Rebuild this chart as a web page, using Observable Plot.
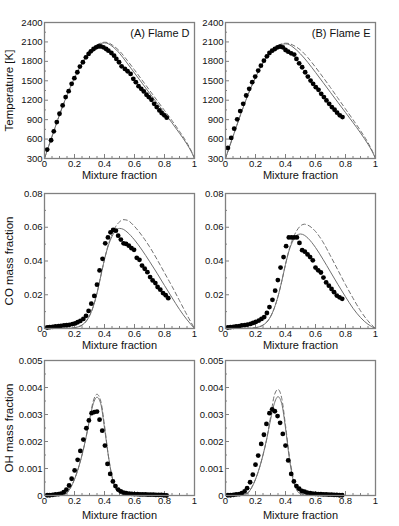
<!DOCTYPE html>
<html><head><meta charset="utf-8">
<script src="https://cdn.jsdelivr.net/npm/d3@7"></script>
<script src="https://cdn.jsdelivr.net/npm/@observablehq/plot@0.6"></script>
<style>
body{margin:0;background:#fff;}
#chart{position:relative;width:399px;height:526px;font-family:"Liberation Sans",Arial,sans-serif;}
#chart > div{position:absolute;}
</style></head><body><div id="chart"></div>
<script>
// ---------- tick labels / positions ----------
const xMajor = [0, 0.2, 0.4, 0.6, 0.8, 1];
const xMinor = [0.05,0.1,0.15,0.25,0.3,0.35,0.45,0.5,0.55,0.65,0.7,0.75,0.85,0.9,0.95];
const tMajor = [300,600,900,1200,1500,1800,2100,2400];
const tMinor = [450,750,1050,1350,1650,1950,2250];
const cMajor = [0,0.02,0.04,0.06,0.08];
const cMinor = [0.01,0.03,0.05,0.07];
const oMajor = [0,0.001,0.002,0.003,0.004,0.005];
const oMinor = [0.0005,0.0015,0.0025,0.0035,0.0045];

// ---------- measured points (symbols) ----------
const tdZ = [0.018,0.044,0.062,0.082,0.100,0.121,0.141,0.161,0.181,0.199,0.219,0.236,0.256,0.276,0.294,0.309,0.327,0.344,0.360,0.375,0.393,0.411,0.426,0.446,0.464,0.479,0.497,0.514,0.536,0.554,0.574,0.592,0.609,0.627,0.645,0.662,0.680,0.695,0.713,0.731,0.748,0.766,0.781,0.799,0.815];
const tdT = [438,582,720,863,991,1120,1248,1340,1453,1540,1632,1719,1786,1862,1914,1955,1991,2016,2031,2031,2016,1991,1965,1929,1888,1837,1786,1724,1683,1647,1606,1530,1478,1417,1376,1335,1284,1248,1207,1145,1094,1043,1002,966,930];
const teZ = [0.016,0.038,0.058,0.078,0.098,0.118,0.138,0.158,0.178,0.198,0.218,0.236,0.256,0.276,0.293,0.311,0.329,0.347,0.364,0.382,0.400,0.418,0.438,0.458,0.473,0.491,0.511,0.531,0.549,0.567,0.584,0.602,0.620,0.638,0.656,0.673,0.691,0.709,0.727,0.744,0.762,0.780];
const teT = [464,618,761,905,1033,1145,1273,1376,1478,1565,1657,1734,1811,1878,1929,1965,1991,2016,2026,2016,1975,1950,1924,1904,1837,1770,1709,1632,1565,1504,1453,1401,1360,1299,1248,1196,1145,1094,1053,1007,966,940];

const cdZ = [0.018,0.035,0.055,0.073,0.093,0.110,0.130,0.148,0.166,0.186,0.204,0.221,0.239,0.259,0.277,0.294,0.312,0.332,0.350,0.367,0.387,0.405,0.423,0.440,0.458,0.476,0.491,0.509,0.527,0.544,0.562,0.580,0.597,0.615,0.633,0.650,0.668,0.686,0.704,0.721,0.739,0.754,0.772,0.790,0.808,0.825];
const cdY = [0.0006,0.0008,0.0010,0.0012,0.0014,0.0016,0.0018,0.0020,0.0022,0.0026,0.0030,0.0037,0.0045,0.0057,0.0075,0.0104,0.0147,0.0193,0.0260,0.0344,0.0413,0.0505,0.0540,0.0570,0.0584,0.0580,0.0550,0.0527,0.0505,0.0501,0.0491,0.0476,0.0466,0.0419,0.0407,0.0373,0.0354,0.0334,0.0305,0.0285,0.0269,0.0246,0.0230,0.0210,0.0197,0.0180];
const ceZ = [0.016,0.033,0.053,0.071,0.091,0.109,0.129,0.147,0.167,0.184,0.202,0.222,0.240,0.258,0.276,0.293,0.313,0.331,0.349,0.367,0.387,0.404,0.422,0.440,0.458,0.476,0.493,0.511,0.529,0.547,0.564,0.582,0.600,0.618,0.636,0.653,0.671,0.689,0.707,0.724,0.742,0.760,0.778];
const ceY = [0.0006,0.0008,0.0010,0.0012,0.0014,0.0018,0.0020,0.0023,0.0027,0.0033,0.0039,0.0047,0.0057,0.0068,0.0092,0.0127,0.0170,0.0224,0.0287,0.0361,0.0423,0.0488,0.0540,0.0540,0.0540,0.0540,0.0507,0.0464,0.0455,0.0439,0.0423,0.0404,0.0361,0.0345,0.0332,0.0302,0.0273,0.0254,0.0234,0.0215,0.0195,0.0185,0.0176];

const odZ = [0.018,0.035,0.055,0.073,0.093,0.110,0.128,0.146,0.164,0.181,0.201,0.221,0.239,0.259,0.279,0.296,0.314,0.332,0.350,0.367,0.385,0.403,0.420,0.438,0.456,0.473,0.491,0.509,0.527,0.544,0.564,0.582,0.600,0.620,0.637,0.655,0.673,0.690,0.708,0.726,0.743,0.761,0.779,0.796,0.814];
const odY = [0.00001,0.00001,0.00002,0.00004,0.00005,0.00007,0.00012,0.00022,0.00037,0.00062,0.00093,0.00132,0.00165,0.00207,0.00249,0.00278,0.00305,0.00309,0.00311,0.00281,0.00240,0.00185,0.00117,0.00080,0.00052,0.00035,0.00022,0.00015,0.00011,0.00009,0.00007,0.00006,0.00005,0.00005,0.00004,0.00004,0.00004,0.00003,0.00003,0.00003,0.00002,0.00002,0.00002,0.00001,0.00000];
const oeZ = [0.016,0.033,0.053,0.071,0.091,0.109,0.127,0.144,0.164,0.182,0.200,0.218,0.238,0.256,0.273,0.293,0.311,0.329,0.347,0.364,0.382,0.400,0.418,0.438,0.456,0.473,0.491,0.509,0.527,0.544,0.564,0.582,0.600,0.618,0.636,0.653,0.671,0.689,0.707,0.724,0.742,0.760,0.778];
const oeY = [0.00001,0.00001,0.00002,0.00004,0.00005,0.00009,0.00015,0.00027,0.00049,0.00077,0.00114,0.00148,0.00191,0.00225,0.00265,0.00305,0.00319,0.00312,0.00294,0.00269,0.00228,0.00185,0.00130,0.00080,0.00052,0.00035,0.00025,0.00017,0.00014,0.00011,0.00009,0.00007,0.00006,0.00005,0.00005,0.00004,0.00004,0.00003,0.00003,0.00002,0.00002,0.00001,0.00001];

// ---------- model curves (solid / dashed) ----------
const lineTZ = [0,0.05,0.1,0.15,0.2,0.25,0.3,0.35,0.375,0.4,0.425,0.45,0.5,0.55,0.6,0.65,0.7,0.75,0.8,0.85,0.9,0.95,0.98,1];
const tSolidD = [300,640,975,1280,1545,1770,1945,2050,2075,2085,2072,2035,1925,1775,1620,1465,1310,1155,1005,850,690,520,400,300];
const tDashD  = [300,640,975,1280,1545,1770,1945,2055,2083,2095,2088,2055,1960,1820,1668,1512,1355,1198,1042,885,720,540,410,300];
const tSolidE = [300,640,975,1285,1550,1775,1945,2040,2062,2070,2058,2020,1915,1780,1630,1475,1320,1165,1010,855,695,520,400,300];
const tDashE  = [300,640,975,1285,1550,1775,1948,2045,2070,2080,2075,2050,1975,1855,1710,1555,1395,1230,1065,900,730,545,410,300];

const lineCZ = [0,0.1,0.15,0.2,0.225,0.25,0.275,0.3,0.325,0.35,0.375,0.4,0.425,0.45,0.475,0.5,0.525,0.55,0.6,0.65,0.7,0.75,0.8,0.85,0.9,0.95,1];
const cSolidD = [0,0,0.0001,0.0005,0.001,0.002,0.004,0.0075,0.013,0.021,0.031,0.041,0.049,0.0545,0.058,0.0593,0.0588,0.0572,0.0525,0.0465,0.0398,0.0328,0.0255,0.0183,0.0113,0.0052,0];
const cDashD  = [0,0,0.0001,0.0005,0.001,0.002,0.004,0.0075,0.013,0.021,0.031,0.041,0.0495,0.0558,0.0605,0.0632,0.0645,0.0642,0.0605,0.055,0.0485,0.041,0.033,0.025,0.0165,0.008,0];
const cSolidE = [0,0,0.0001,0.0005,0.001,0.002,0.0038,0.007,0.012,0.019,0.028,0.038,0.0465,0.052,0.0553,0.056,0.0553,0.0535,0.048,0.041,0.0335,0.026,0.0188,0.012,0.0065,0.0025,0];
const cDashE  = [0,0,0.0001,0.0005,0.001,0.002,0.0038,0.007,0.012,0.019,0.028,0.038,0.047,0.0535,0.058,0.0608,0.0618,0.0612,0.0575,0.0512,0.043,0.0345,0.026,0.018,0.0105,0.0045,0];

const lineOZ = [0,0.1,0.125,0.15,0.175,0.2,0.225,0.25,0.275,0.3,0.325,0.35,0.375,0.4,0.425,0.45,0.475,0.5,0.55,0.6,0.7,0.8,0.9,1];
const oSolidD = [0,0,0.00003,0.0001,0.0003,0.0006,0.001,0.0015,0.0021,0.0028,0.0034,0.00364,0.0034,0.0025,0.0015,0.0007,0.00025,0.0001,0.00002,0,0,0,0,0];
const oDashD  = [0,0,0.00003,0.0001,0.0003,0.0006,0.001,0.0015,0.0021,0.0028,0.0035,0.00375,0.0035,0.0026,0.0015,0.0007,0.00025,0.0001,0.00002,0,0,0,0,0];
const oSolidE = [0,0,0.00003,0.0001,0.0003,0.0006,0.001,0.0015,0.0021,0.0028,0.0034,0.00366,0.0034,0.0025,0.0014,0.0006,0.0002,0.00006,0.00001,0,0,0,0,0];
const oDashE  = [0,0,0.00003,0.0001,0.0003,0.0006,0.001,0.0015,0.0021,0.0029,0.0037,0.00393,0.0036,0.0026,0.0015,0.0007,0.00025,0.0001,0.00002,0,0,0,0,0];

const zip = (xs, ys) => xs.map((x, i) => ({x, y: ys[i]}));

const FRAME = "#808080";
const LINE = "#707070";
const fmtX = d => d === 0 ? "0" : d === 1 ? "1" : d.toFixed(1);

function panel(p) {
  const innerW = p.width - p.mL - p.mR;
  const innerH = p.height - p.mT - p.mB;
  const marks = [
    Plot.ruleX(xMinor, {stroke: FRAME, insetTop: innerH - 2}),
    Plot.ruleX(xMajor, {stroke: FRAME, insetTop: innerH - 4}),
    Plot.ruleY(p.yMinor, {stroke: FRAME, insetRight: innerW - 2}),
    Plot.ruleY(p.yMajor, {stroke: FRAME, insetRight: innerW - 4}),
    Plot.line(zip(p.lineX, p.dashed), {x: "x", y: "y", stroke: LINE, strokeWidth: 1, strokeDasharray: "4,3", curve: "monotone-x"}),
    Plot.line(zip(p.lineX, p.solid), {x: "x", y: "y", stroke: LINE, strokeWidth: 1, curve: "monotone-x"}),
    Plot.dot(zip(p.dotX, p.dotY), {x: "x", y: "y", r: 2.4, fill: "#000", stroke: "none"}),
    Plot.frame({stroke: FRAME, strokeWidth: 1.3}),
    Plot.axisX({ticks: xMajor, tickSize: 0, tickPadding: 2, tickFormat: fmtX, label: null, fontSize: 9.5}),
    Plot.axisY({ticks: p.yMajor, tickSize: 0, tickPadding: 2, tickFormat: p.yFmt, label: null, fontSize: 9.5}),
    Plot.text(["Mixture fraction"], {frameAnchor: "bottom", dy: p.labelOff, lineAnchor: "bottom", fontSize: 11, fill: "#111"})
  ];
  if (p.yLabel) marks.push(Plot.text([p.yLabel], {frameAnchor: "left", rotate: -90, dx: -(p.mL - 4), lineAnchor: "top", textAnchor: "middle", fontSize: 11.5, fill: "#111"}));
  if (p.title) marks.push(Plot.text([p.title], {frameAnchor: "top-right", dx: -5, dy: 11, textAnchor: "end", lineAnchor: "middle", fontSize: 11, fill: "#111"}));
  const svg = Plot.plot({
    width: p.width, height: p.height,
    marginLeft: p.mL, marginRight: p.mR, marginTop: p.mT, marginBottom: p.mB,
    x: {domain: [0, 1]},
    y: {domain: p.yDomain},
    style: {fontFamily: '"Liberation Sans", Arial, sans-serif', color: "#111", background: "transparent", overflow: "visible"},
    marks
  });
  const div = document.createElement("div");
  div.style.left = p.left + "px";
  div.style.top = p.top + "px";
  div.appendChild(svg);
  document.getElementById("chart").appendChild(div);
}

const cols = [
  {left: 0, width: 196, mL: 44, mR: 2},
  {left: 196, width: 203, mL: 29, mR: 24}
];
const rows = [
  {top: 0, height: 180, mT: 22, mB: 22, labelOff: 20.5},
  {top: 175, height: 175, mT: 18, mB: 22, labelOff: 20.5},
  {top: 350, height: 176, mT: 10, mB: 31, labelOff: 23}
];
const fmtT = d => String(d);
const fmtC = d => d === 0 ? "0" : d.toFixed(2);
const fmtO = d => d === 0 ? "0" : d.toFixed(3);

const panels = [
  {c: 0, r: 0, yDomain: [300, 2400], yMajor: tMajor, yMinor: tMinor, yFmt: fmtT, yLabel: "Temperature [K]", title: "(A) Flame D", lineX: lineTZ, solid: tSolidD, dashed: tDashD, dotX: tdZ, dotY: tdT},
  {c: 1, r: 0, yDomain: [300, 2400], yMajor: tMajor, yMinor: tMinor, yFmt: fmtT, yLabel: null, title: "(B) Flame E", lineX: lineTZ, solid: tSolidE, dashed: tDashE, dotX: teZ, dotY: teT},
  {c: 0, r: 1, yDomain: [0, 0.08], yMajor: cMajor, yMinor: cMinor, yFmt: fmtC, yLabel: "CO mass fraction", title: null, lineX: lineCZ, solid: cSolidD, dashed: cDashD, dotX: cdZ, dotY: cdY},
  {c: 1, r: 1, yDomain: [0, 0.08], yMajor: cMajor, yMinor: cMinor, yFmt: fmtC, yLabel: null, title: null, lineX: lineCZ, solid: cSolidE, dashed: cDashE, dotX: ceZ, dotY: ceY},
  {c: 0, r: 2, yDomain: [0, 0.005], yMajor: oMajor, yMinor: oMinor, yFmt: fmtO, yLabel: "OH mass fraction", title: null, lineX: lineOZ, solid: oSolidD, dashed: oDashD, dotX: odZ, dotY: odY},
  {c: 1, r: 2, yDomain: [0, 0.005], yMajor: oMajor, yMinor: oMinor, yFmt: fmtO, yLabel: null, title: null, lineX: lineOZ, solid: oSolidE, dashed: oDashE, dotX: oeZ, dotY: oeY}
];
for (const p of panels) panel({...cols[p.c], ...rows[p.r], ...p});
</script></body></html>
